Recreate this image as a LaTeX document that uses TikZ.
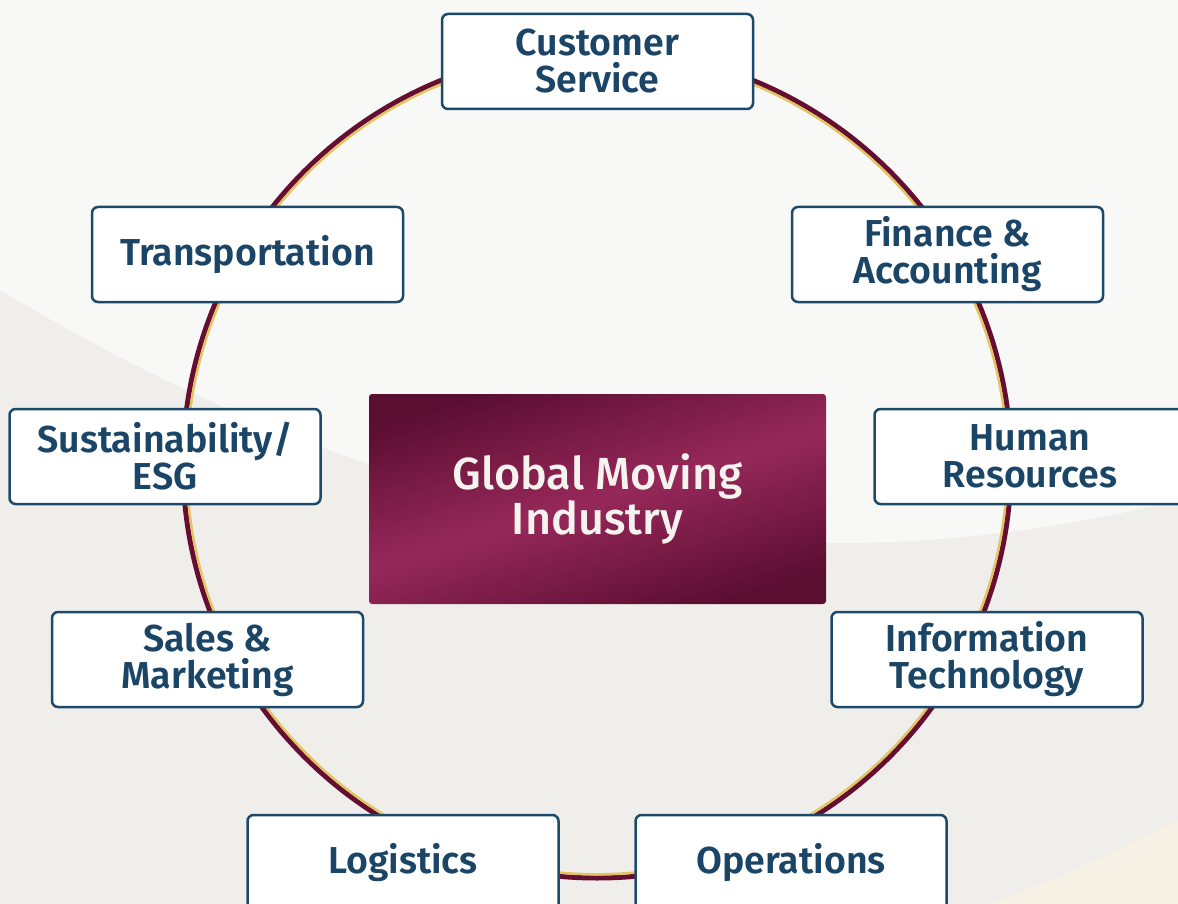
\documentclass[tikz,border=0pt]{standalone}
\usepackage{fontspec}
\setmainfont{Fira Sans}[BoldFont={Fira Sans SemiBold}]
\newfontfamily\hubfont{Fira Sans Medium}
\definecolor{bgA}{HTML}{EFEEEB}
\definecolor{bgB}{HTML}{F8F8F7}
\definecolor{bgC}{HTML}{F6F1E4}
\definecolor{ringM}{HTML}{650E32}
\definecolor{ringG}{HTML}{E3C462}
\definecolor{navy}{HTML}{1B4567}
\definecolor{edge}{HTML}{1D4A6A}
\definecolor{mDark}{HTML}{5C0E31}
\definecolor{mLight}{HTML}{96285A}
\definecolor{ctext}{HTML}{F6F3EE}
\tikzset{
  unitbox/.style={draw=edge, line width=2.5pt, fill=white, rounded corners=6pt,
    minimum width=311pt, minimum height=95pt, inner sep=0pt, align=center,
    text=navy, font=\bfseries\fontsize{37.5}{37}\selectfont},
  hubbox/.style={rounded corners=3pt, minimum width=457pt, minimum height=210pt,
    inner sep=0pt, align=center, text=ctext, font=\hubfont\fontsize{45}{45}\selectfont,
    top color=mDark, bottom color=mDark, middle color=mLight, shading angle=17}
}
\begin{document}
\begin{tikzpicture}[x=1pt,y=-1pt]
\useasboundingbox (0,0) rectangle (1178,904);
\clip (0,0) rectangle (1178,904);
% background
\fill[bgA] (0,0) rectangle (1178,904);
\fill[bgB] (0,0) -- (0,290) .. controls (300,470) and (700,620) .. (1178,500) -- (1178,0) -- cycle;
\fill[bgC] (1178,820) .. controls (1100,860) and (1040,885) .. (990,904) -- (1178,904) -- cycle;
% ring
\coordinate (ringc) at (597,464);
\draw[ringM, line width=5pt] (ringc) circle [radius=414];
\draw[ringG, line width=2.5pt] (ringc) circle [radius=410.3];
% boxes
\node[unitbox] (cs) at (597.5,61.5) {Customer\\Service};
\node[unitbox] (tr) at (247.5,254.5) {Transportation};
\node[unitbox] (fa) at (947.5,254.5) {Finance \&\\Accounting};
\node[unitbox] (su) at (165,456.5) {Sustainability/\\ESG};
\node[unitbox] (hr) at (1030,456.5) {Human\\Resources};
\node[unitbox] (sm) at (207.5,659.5) {Sales \&\\Marketing};
\node[unitbox] (it) at (987,659.5) {Information\\Technology};
\node[unitbox] (lo) at (403,862.5) {Logistics};
\node[unitbox] (op) at (791,862.5) {Operations};
% hub
\node[hubbox] (hub) at (597.5,499) {Global Moving\\Industry};
\end{tikzpicture}
\end{document}
